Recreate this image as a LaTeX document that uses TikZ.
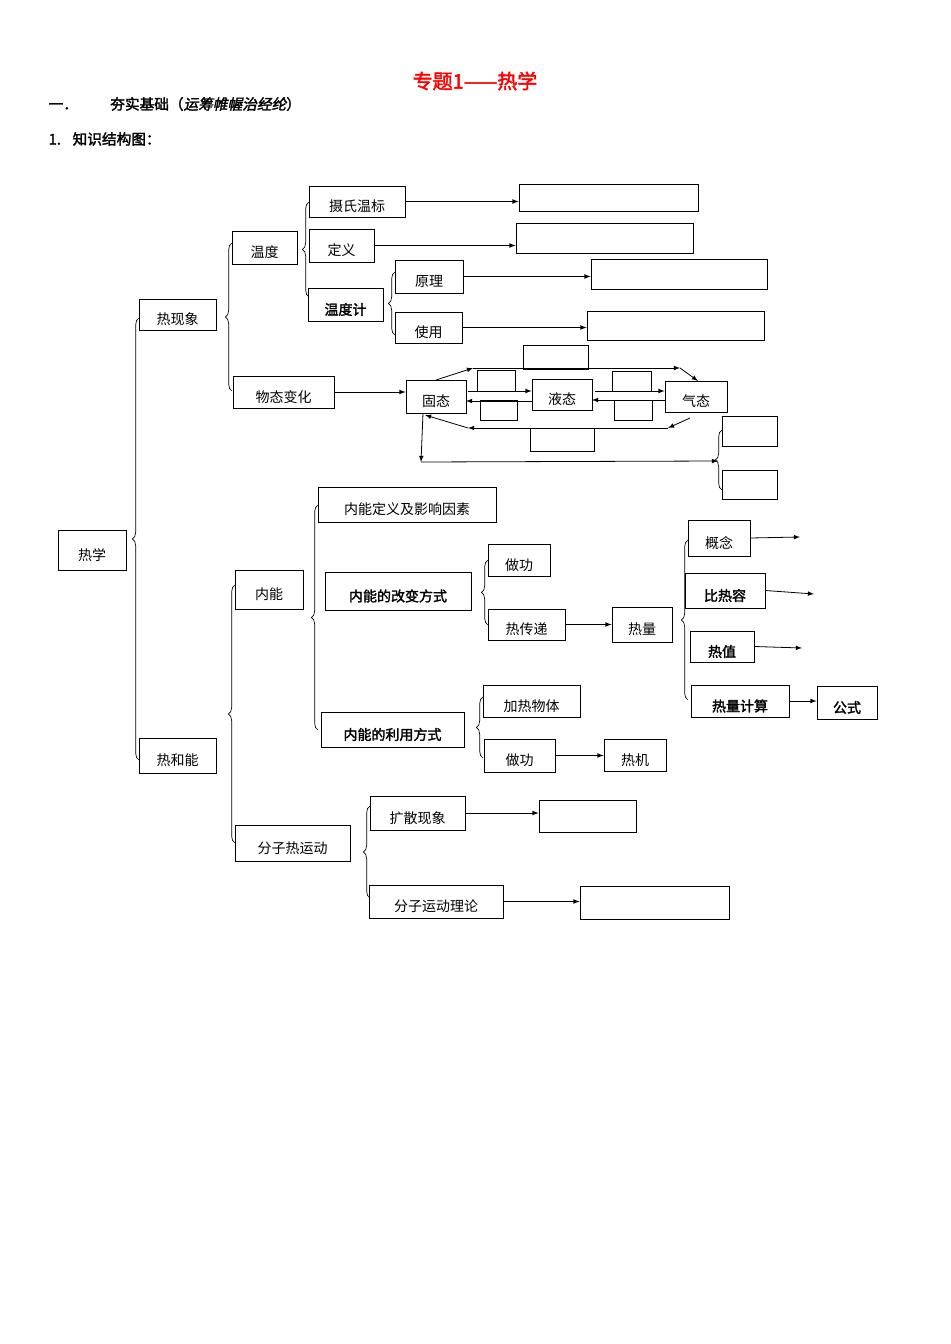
\documentclass[tikz,border=0pt]{standalone}
\usepackage{fontspec}
\newfontfamily\cjk{Noto Sans CJK SC}[AutoFakeBold=2,AutoFakeSlant=0.2]
\usetikzlibrary{decorations.pathreplacing}
\tikzset{
  box/.style={draw,line width=0.6pt,inner sep=0pt,font=\cjk\fontsize{10.5}{12}\selectfont,
    text height=1.55em,text depth=0pt},
  bbox/.style={box,font=\cjk\bfseries\fontsize{10.5}{12}\selectfont},
  arr/.style={-latex,line width=0.6pt},
  brc/.style={decorate,decoration={brace,amplitude=5pt},line width=0.5pt},
}
\newcommand\bx[7][box]{\node[#1,minimum width={(#5-#3)*0.75pt},minimum height={(#6-#4)*0.75pt}]
  (#2) at ({(#3+#5)/2},{(#4+#6)/2}) {#7};}
\begin{document}
\begin{tikzpicture}[x=0.75pt,y=-0.75pt]
\useasboundingbox (0,0) rectangle (950,1344);
% Heading
\node[font=\cjk\bfseries\fontsize{15}{18}\selectfont,text=red] (title) at (475,81) {专题1——热学};
\node[anchor=west,font=\cjk\bfseries\fontsize{11}{13}\selectfont] (h1) at (44,104) {一．\hspace{2.2em}夯实基础（\textit{运筹帷幄治经纶}）};
\node[anchor=west,font=\cjk\bfseries\fontsize{11}{13}\selectfont] (h2) at (44,139) {1.\hspace{0.8em}知识结构图：};
% Boxes
\bx{rexue}{58}{530}{126}{570}{热学}
\bx{rxx}{139}{299}{216}{330}{热现象}
\bx{rhn}{139}{738}{216}{773}{热和能}
\bx{wendu}{232}{231}{297}{264}{温度}
\bx{wtbh}{233}{376}{334}{408}{物态变化}
\bx{ssws}{309}{186}{405}{217}{摄氏温标}
\bx{dingyi}{309}{229}{374}{262}{定义}
\bx[bbox]{wdj}{308}{288}{383}{321}{温度计}
\bx{yuanli}{395}{260}{463}{293}{原理}
\bx{shiyong}{395}{312}{462}{343}{使用}
\bx{ba}{519}{184}{698}{211}{}
\bx{bb}{516}{223}{693}{253}{}
\bx{bc}{591}{259}{767}{289}{}
\bx{bd}{587}{311}{764}{340}{}
\bx{gutai}{406}{380}{466}{413}{固态}
\bx{yetai}{532}{379}{592}{410}{液态}
\bx{qitai}{665}{381}{727}{412}{气态}
\bx{sa}{523}{345}{588}{369}{}
\bx{sb}{477}{372}{515}{390}{}
\bx{sc}{612}{373}{651}{390}{}
\bx{sd}{480}{401}{517}{420}{}
\bx{se}{614}{401}{652}{420}{}
\bx{sf}{530}{428}{594}{451}{}
\bx{sg}{722}{416}{777}{446}{}
\bx{sh}{722}{470}{777}{499}{}
\bx{neineng}{235}{570}{303}{609}{内能}
\bx{fenzi}{235}{825}{350}{861}{分子热运动}
\bx{nndy}{318}{487}{496}{522}{内能定义及影响因素}
\bx[bbox]{gbfs}{325}{572}{471}{610}{内能的改变方式}
\bx[bbox]{lyfs}{321}{712}{464}{747}{内能的利用方式}
\bx{zga}{488}{544}{550}{576}{做功}
\bx{rcd}{488}{609}{565}{640}{热传递}
\bx{reliang}{612}{607}{672}{642}{热量}
\bx{gainian}{688}{520}{750}{556}{概念}
\bx[bbox]{brr}{685}{573}{765}{608}{比热容}
\bx[bbox]{rezhi}{690}{631}{754}{662}{热值}
\bx[bbox]{rljs}{691}{685}{789}{717}{热量计算}
\bx[bbox]{gongshi}{817}{686}{877}{719}{公式}
\bx{jrwt}{483}{685}{580}{717}{加热物体}
\bx{zgb}{484}{739}{555}{772}{做功}
\bx{reji}{604}{739}{666}{771}{热机}
\bx{kuosan}{370}{796}{465}{830}{扩散现象}
\bx{be}{539}{800}{636}{832}{}
\bx{fzll}{369}{885}{503}{918}{分子运动理论}
\bx{bf}{580}{886}{729}{919}{}
% Braces
\draw[brc] (139,760) -- (139,318);
\draw[brc] (232,391) -- (232,243);
\draw[brc] (309,297) -- (309,202);
\draw[brc] (395,335) -- (395,272);
\draw[brc] (235,843) -- (235,585);
\draw[brc] (318,730) -- (318,505);
\draw[brc] (488,625) -- (488,560);
\draw[brc] (483,758) -- (483,697);
\draw[brc] (688,700) -- (688,540);
\draw[brc] (370,898) -- (370,806);
\draw[brc] (722,490) -- (722,430);
% Arrows
\draw[arr] (ssws.east) -- (ba.west |- ssws.east);
\draw[arr] (dingyi.east) -- (bb.west |- dingyi.east);
\draw[arr] (yuanli.east) -- (bc.west |- yuanli.east);
\draw[arr] (shiyong.east) -- (bd.west |- shiyong.east);
\draw[arr] (wtbh.east) -- (gutai.west |- wtbh.east);
\draw[arr] (rcd.east) -- (reliang.west |- rcd.east);
\draw[arr] (rljs.east) -- (gongshi.west |- rljs.east);
\draw[arr] (zgb.east) -- (reji.west |- zgb.east);
\draw[arr] (kuosan.east) -- (be.west |- kuosan.east);
\draw[arr] (fzll.east) -- (bf.west |- fzll.east);
\coordinate (ea) at (800,537);
\coordinate (eb) at (814,594);
\coordinate (ec) at (802,648);
\draw[arr] (gainian.east) -- (ea);
\draw[arr] (brr.east) -- (eb);
\draw[arr] (rezhi.east) -- (ec);
% State changes
\coordinate (ta) at (473,368);
\coordinate (tb) at (680,368);
\coordinate (ua) at (668,428);
\coordinate (ub) at (468,428);
\coordinate (da) at (421,462);
\coordinate (db) at (718,461);
\draw[arr] (436,380) -- (ta);
\draw[arr] (ta) -- (tb);
\draw[arr] (tb) -- (698,381);
\draw[arr] (468,391) -- (yetai.west |- 0,391);
\draw[arr] (yetai.west |- 0,401) -- (466,401);
\draw[arr] (595,391) -- (qitai.west |- 0,391);
\draw[arr] (qitai.west |- 0,400) -- (592,400);
\draw[arr] (690,418) -- (ua);
\draw[arr] (ua) -- (ub);
\draw[arr] (ub) -- (425,415);
\draw[arr] (423,413) -- (da);
\draw[arr] (da) -- (db);
\end{tikzpicture}
\end{document}
